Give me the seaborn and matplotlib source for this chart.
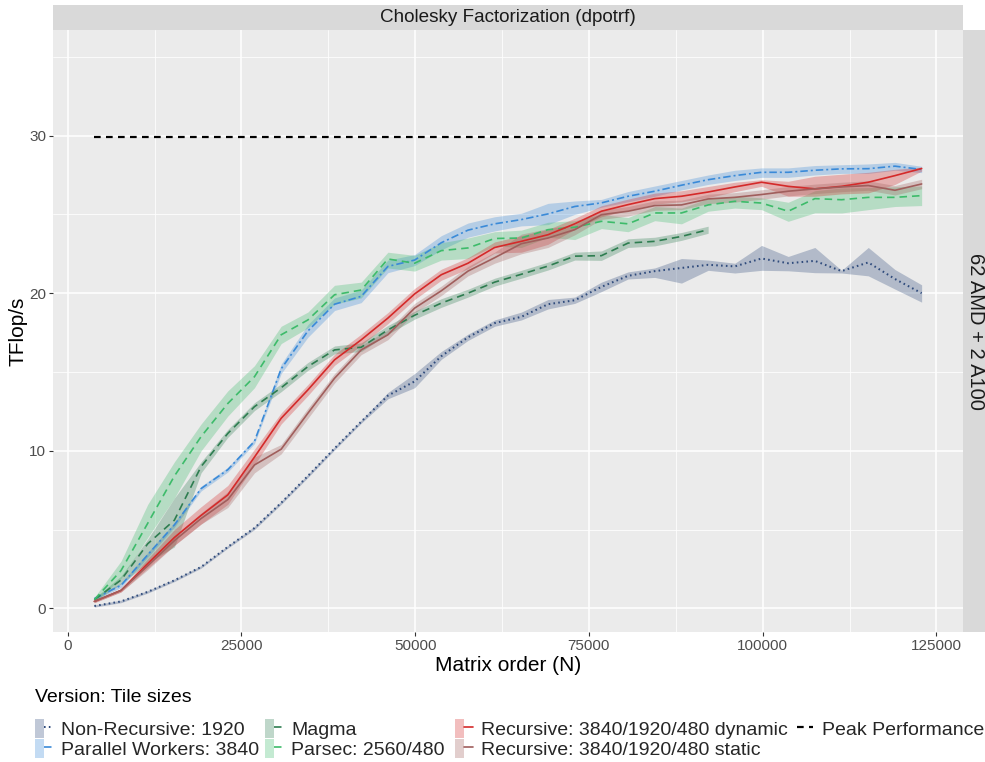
import numpy as np
import pandas as pd
import seaborn as sns
import matplotlib
matplotlib.use("Agg")
import matplotlib.pyplot as plt
from matplotlib.patches import Patch, Rectangle
from matplotlib.lines import Line2D
from matplotlib.legend_handler import HandlerTuple
from matplotlib.ticker import MultipleLocator

# ---------------- data ----------------
matrix_order = [3840, 7680, 11520, 15360, 19200, 23040, 26880, 30720, 34560, 38400,
                42240, 46080, 49920, 53760, 57600, 61440, 65280, 69120, 72960, 76800,
                80640, 84480, 88320, 92160, 96000, 99840, 103680, 107520, 111360, 115200,
                119040, 122880]

nonrec_mean = [0.15, 0.44, 1.05, 1.78, 2.63, 3.9, 5.1, 6.7, 8.4, 10.15, 11.85, 13.5, 14.4, 16.0,
               17.2, 18.1, 18.5, 19.3, 19.55, 20.4, 21.1, 21.4, 21.6, 21.8, 21.7, 22.2, 21.9,
               22.05, 21.4, 21.95, 20.9, 20.0]
nonrec_low = [0.08, 0.36, 0.97, 1.7, 2.55, 3.82, 5.0, 6.6, 8.3, 10.05, 11.75, 13.3, 14.0, 15.8,
              17.0, 17.9, 18.3, 19.0, 19.35, 20.1, 20.9, 21.0, 20.64, 21.45, 21.28, 21.45, 21.42,
              21.3, 21.28, 21.1, 20.26, 19.43]
nonrec_high = [0.22, 0.52, 1.13, 1.86, 2.71, 3.98, 5.2, 6.8, 8.5, 10.25, 11.95, 13.7, 14.9, 16.3,
               17.4, 18.3, 18.8, 19.6, 19.75, 20.7, 21.35, 21.6, 22.2, 22.1, 21.9, 23.03, 22.33,
               22.9, 21.45, 22.9, 21.5, 20.53]

pw_mean = [0.62, 1.46, 3.4, 5.3, 7.6, 8.8, 10.6, 15.2, 17.6, 19.3, 19.8, 21.7, 22.1, 23.2, 24.0,
           24.4, 24.67, 25.03, 25.5, 25.73, 26.15, 26.47, 26.85, 27.2, 27.46, 27.67, 27.67, 27.8,
           27.89, 27.9, 28.06, 27.85]
pw_low = [0.5, 1.32, 3.25, 5.15, 7.45, 8.65, 10.45, 14.9, 17.2, 18.9, 19.4, 21.3, 21.75, 22.75,
          23.55, 23.95, 24.27, 24.35, 25.0, 25.45, 25.8, 26.15, 26.55, 26.9, 27.15, 27.35, 27.35,
          27.5, 27.6, 27.6, 27.8, 27.65]
pw_high = [0.74, 1.6, 3.55, 5.45, 7.75, 8.95, 10.75, 15.5, 18.0, 19.7, 20.2, 22.1, 22.45, 23.65,
           24.45, 24.85, 25.07, 25.7, 25.85, 25.95, 26.45, 26.8, 27.15, 27.5, 27.8, 27.95, 27.95,
           28.1, 28.15, 28.2, 28.3, 28.05]

magma_order = matrix_order[:24]
magma_mean = [0.55, 1.8, 4.1, 5.6, 9.0, 11.1, 12.8, 14.0, 15.34, 16.4, 16.57, 17.67, 18.6, 19.37,
              20.0, 20.7, 21.2, 21.72, 22.35, 22.38, 23.18, 23.29, 23.6, 24.03]
magma_low = [0.45, 1.55, 2.9, 3.9, 8.6, 10.85, 12.55, 13.75, 15.1, 16.15, 16.3, 17.4, 18.35, 19.1,
             19.75, 20.45, 20.95, 21.47, 22.1, 22.08, 22.9, 23.0, 23.35, 23.8]
magma_high = [0.65, 2.05, 4.4, 7.0, 9.3, 11.35, 13.05, 14.25, 15.6, 16.65, 16.85, 17.95, 18.85,
              19.65, 20.25, 20.95, 21.45, 21.97, 22.6, 22.68, 23.45, 23.55, 23.85, 24.25]

parsec_mean = [0.55, 2.4, 5.4, 8.4, 10.9, 13.0, 14.7, 17.36, 18.3, 19.9, 20.2, 22.17, 21.9, 22.7,
               22.87, 23.47, 23.5, 24.03, 24.18, 24.56, 24.4, 25.09, 25.09, 25.6, 25.83, 25.72,
               25.2, 26.0, 25.93, 26.08, 26.08, 26.19]
parsec_low = [0.4, 1.9, 4.5, 7.0, 10.0, 12.2, 14.0, 16.8, 17.8, 19.3, 19.7, 21.6, 21.4, 22.1, 22.2,
              23.0, 22.9, 23.55, 23.4, 24.1, 23.9, 24.6, 24.4, 25.2, 25.4, 25.3, 24.56, 25.1,
              25.09, 25.3, 25.5, 25.56]
parsec_high = [0.7, 3.0, 6.6, 9.3, 11.7, 13.8, 15.4, 17.9, 18.8, 20.5, 20.7, 22.6, 22.4, 23.2, 23.5,
               23.9, 24.0, 24.5, 24.6, 25.0, 24.8, 25.5, 25.4, 26.0, 26.15, 26.05, 25.77, 26.5,
               26.68, 26.7, 26.75, 26.8]

rdyn_mean = [0.44, 1.14, 2.84, 4.5, 5.9, 7.2, 9.6, 12.06, 13.86, 15.77, 17.04, 18.42, 19.95, 21.17,
             21.9, 22.9, 23.29, 23.71, 24.4, 25.2, 25.62, 26.0, 26.15, 26.42, 26.74, 27.04, 26.78,
             26.62, 26.78, 27.04, 27.46, 27.91]
rdyn_low = [0.36, 1.04, 2.55, 4.0, 5.35, 6.6, 9.1, 11.7, 13.5, 15.42, 16.7, 18.07, 19.6, 20.82,
            21.55, 22.55, 22.6, 23.1, 24.05, 24.85, 25.27, 25.65, 25.8, 26.07, 26.44, 26.78, 26.15,
            26.15, 26.3, 26.36, 26.9, 27.75]
rdyn_high = [0.52, 1.24, 3.15, 5.0, 6.45, 7.8, 10.1, 12.4, 14.2, 16.12, 17.4, 18.77, 20.3, 21.52,
             22.25, 23.25, 23.65, 24.05, 24.75, 25.55, 25.97, 26.35, 26.5, 26.77, 27.04, 27.2, 27.1,
             27.42, 27.55, 27.67, 27.86, 28.0]

rsta_mean = [0.44, 1.14, 2.7, 4.3, 5.7, 6.9, 9.1, 10.1, 12.38, 14.6, 16.4, 17.36, 19.05, 20.15,
             21.4, 22.25, 23.14, 23.5, 24.03, 24.98, 25.2, 25.56, 25.6, 25.98, 26.08, 26.26,
             26.47, 26.62, 26.74, 26.83, 26.53, 26.93]
rsta_low = [0.36, 1.04, 2.45, 4.0, 5.35, 6.4, 8.6, 9.8, 12.05, 14.3, 16.1, 17.05, 18.75, 19.85,
            21.1, 21.9, 22.5, 22.9, 23.7, 24.68, 24.9, 25.26, 25.3, 25.68, 25.78, 25.96, 26.17,
            26.32, 26.44, 26.53, 26.23, 26.63]
rsta_high = [0.52, 1.24, 2.95, 4.6, 6.05, 7.4, 9.6, 10.4, 12.7, 14.9, 16.7, 17.66, 19.35, 20.45,
             21.7, 22.6, 23.75, 24.1, 24.35, 25.28, 25.5, 25.86, 25.9, 26.28, 26.38, 26.56, 26.77,
             26.92, 27.04, 27.13, 26.83, 27.23]

peak_order = [3840, 122880]
peak_value = [29.9, 29.9]

versions = ["Non-Recursive: 1920", "Parallel Workers: 3840", "Magma", "Parsec: 2560/480",
            "Recursive: 3840/1920/480 dynamic", "Recursive: 3840/1920/480 static"]
peak_label = "Peak Performance"

colors = {
    "Non-Recursive: 1920": "#2F4B7C",
    "Parallel Workers: 3840": "#3A8AD8",
    "Magma": "#2E7D50",
    "Parsec: 2560/480": "#3DBB6A",
    "Recursive: 3840/1920/480 dynamic": "#D42A2A",
    "Recursive: 3840/1920/480 static": "#A05E5C",
    "Peak Performance": "#000000",
}
dash_styles = {
    "Non-Recursive: 1920": (0.8, 1.6),
    "Parallel Workers: 3840": (4.5, 1.8, 1.2, 1.8),
    "Magma": (4.5, 3),
    "Parsec: 2560/480": (4.5, 3),
    "Recursive: 3840/1920/480 dynamic": "",
    "Recursive: 3840/1920/480 static": "",
    "Peak Performance": (3.0, 2.4),
}
widths = {name: 1.2 for name in versions}
widths["Non-Recursive: 1920"] = 1.45

series = [
    ("Non-Recursive: 1920", matrix_order, nonrec_mean, nonrec_low, nonrec_high),
    ("Parallel Workers: 3840", matrix_order, pw_mean, pw_low, pw_high),
    ("Magma", magma_order, magma_mean, magma_low, magma_high),
    ("Parsec: 2560/480", matrix_order, parsec_mean, parsec_low, parsec_high),
    ("Recursive: 3840/1920/480 dynamic", matrix_order, rdyn_mean, rdyn_low, rdyn_high),
    ("Recursive: 3840/1920/480 static", matrix_order, rsta_mean, rsta_low, rsta_high),
]

# ---------------- style ----------------
sns.set_theme(style="darkgrid")
plt.rcParams["font.family"] = ["Liberation Sans", "DejaVu Sans"]
plt.rcParams["axes.facecolor"] = "#EBEBEB"

fig = plt.figure(figsize=(9.85, 7.62), dpi=100)
W, H = 985, 762
L, R, T, B = 53, 963, 30, 632
ax = fig.add_axes([L / W, 1 - B / H, (R - L) / W, (B - T) / H])
ax.set_facecolor("#EBEBEB")

for name, xs, m, lo, hi in series:
    ax.fill_between(xs, lo, hi, color=colors[name], alpha=0.3, linewidth=0, zorder=2)

for name, xs, m, lo, hi in series:
    d = pd.DataFrame({"N": xs, "TFlops": m})
    sns.lineplot(data=d, x="N", y="TFlops", color=colors[name], linewidth=widths[name],
                 errorbar=None, legend=False, ax=ax, zorder=3)
    if dash_styles[name] != "":
        ax.lines[-1].set_dashes(dash_styles[name])

peak_df = pd.DataFrame({"N": peak_order, "TFlops": peak_value})
sns.lineplot(data=peak_df, x="N", y="TFlops", color="black", linewidth=1.6,
             legend=False, ax=ax, zorder=3)
ax.lines[-1].set_dashes(dash_styles[peak_label])

ax.set_xlim(-2112, 128832)
ax.set_ylim(-1.5, 36.7)
ax.set_xticks([0, 25000, 50000, 75000, 100000, 125000])
ax.set_xticklabels(["0", "25000", "50000", "75000", "100000", "125000"])
ax.set_yticks([0, 10, 20, 30])
ax.xaxis.set_minor_locator(MultipleLocator(12500))
ax.yaxis.set_minor_locator(MultipleLocator(5))
ax.grid(which="major", color="white", linewidth=1.1)
ax.grid(which="minor", color="white", linewidth=0.55)
ax.set_axisbelow(True)
for s in ax.spines.values():
    s.set_visible(False)
ax.tick_params(which="major", length=3, width=0.8, color="#333333", labelsize=11,
               labelcolor="#4D4D4D", pad=2, bottom=True, left=True)
ax.tick_params(which="minor", length=0)
ax.set_xlabel("Matrix order (N)", fontsize=15, color="black", labelpad=2)
ax.set_ylabel("TFlop/s", fontsize=15, color="black", labelpad=1)

# facet strips
fig.patches.append(Rectangle((L / W, 1 - T / H), (R - L) / W, 25 / H, transform=fig.transFigure,
                             facecolor="#D9D9D9", edgecolor="none"))
fig.text((L + R) / 2 / W, 1 - 17.5 / H, "Cholesky Factorization (dpotrf)", ha="center",
         va="center", fontsize=13.6, color="#1A1A1A")
fig.patches.append(Rectangle((R / W, 1 - B / H), 22 / W, (B - T) / H, transform=fig.transFigure,
                             facecolor="#D9D9D9", edgecolor="none"))
fig.text((R + 12) / W, 1 - (T + B) / 2 / H, "62 AMD + 2 A100", ha="center", va="center",
         rotation=-90, fontsize=14.5, color="#1A1A1A")

# legend
fig.text(35 / W, 1 - 697 / H, "Version: Tile sizes", ha="left", va="center", fontsize=14,
         color="black")


def key(name):
    return (Patch(facecolor=colors[name], alpha=0.3, edgecolor="none"),
            Line2D([], [], color=colors[name], linewidth=widths[name],
                   dashes=dash_styles[name] if dash_styles[name] != "" else (None, None)))


columns = [
    (35, [versions[0], versions[1]]),
    (265, [versions[2], versions[3]]),
    (455, [versions[4], versions[5]]),
]
for x0, names in columns:
    fig.legend([key(n) for n in names], names, loc="upper left",
               bbox_to_anchor=(x0 / W, 1 - 719 / H), frameon=False, fontsize=14,
               handlelength=0.9, handleheight=1.1, handletextpad=0.45, labelspacing=0.0,
               borderpad=0, borderaxespad=0,
               handler_map={tuple: HandlerTuple(ndivide=None, pad=0)})
fig.legend([Line2D([], [], color="black", linewidth=1.6, dashes=dash_styles[peak_label])],
           [peak_label], loc="upper left", bbox_to_anchor=(797 / W, 1 - 719 / H),
           frameon=False, fontsize=14, handlelength=0.8, handleheight=1.1,
           handletextpad=0.5, borderpad=0, borderaxespad=0)

fig.savefig("out.png", dpi=100)
